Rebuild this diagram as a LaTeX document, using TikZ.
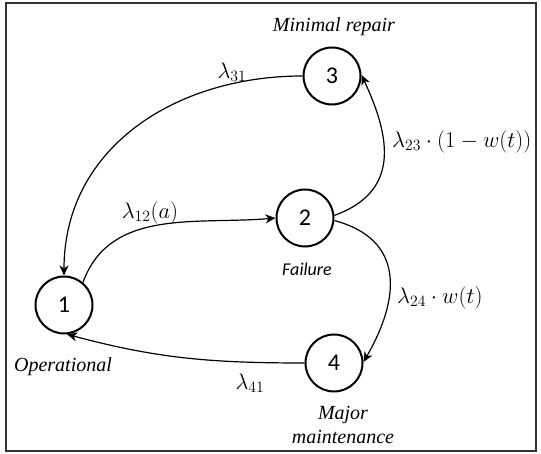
\RequirePackage{fix-cm}
\documentclass[tikz,border=0pt]{standalone}
\usepackage{fontspec}
\setmainfont{Liberation Serif}
\newfontfamily\numfont{Carlito}
\usetikzlibrary{arrows.meta}
\tikzset{
  state/.style={circle,draw=black,line width=2pt,minimum size=57pt,inner sep=0pt,
    font=\numfont\fontsize{24}{26}\selectfont},
  edge/.style={line width=1.2pt,-{Stealth[length=10pt,width=9pt,inset=3pt]}},
  itlab/.style={font=\itshape\fontsize{20}{24}\selectfont,align=center,inner sep=0pt},
  sflab/.style={font=\numfont\itshape\fontsize{18}{20}\selectfont,inner sep=0pt},
  mlab/.style={font=\fontsize{22.5}{25}\selectfont,inner sep=0pt}
}
\begin{document}
\begin{tikzpicture}[x=1pt,y=1pt]
\useasboundingbox (0,0) rectangle (541,454);
\draw[line width=1.6pt,black!80] (6,3) rectangle (536,451);
\node[state] (n3) at (332,378) {3};
\node[state] (n2) at (305,236) {2};
\node[state] (n1) at (64,149) {1};
\node[state] (n4) at (334,91) {4};
\node[itlab] (t3) at (334,427) {Minimal repair};
\node[sflab] (t2) at (307,185) {Failure};
\node[itlab] (t1) at (63,87) {Operational};
\node[itlab] (t4) at (343,29) {Major\\maintenance};
\node[mlab] (l31) at (232,382) {$\lambda_{31}$};
\node[mlab,anchor=west] (l23) at (392,312) {$\lambda_{23}\cdot(1-w(t))$};
\node[mlab] (l12) at (150,241) {$\lambda_{12}(a)$};
\node[mlab,anchor=west] (l24) at (397,156) {$\lambda_{24}\cdot w(t)$};
\node[mlab] (l41) at (250,71) {$\lambda_{41}$};
\draw[edge] (n3.west) to[out=180,in=90,looseness=1.05] (n1.north);
\draw[edge] (n1.50) to[out=70,in=185] (n2.west);
\draw[edge] (n2.5) to[out=20,in=-65,looseness=1.25] (n3.2);
\draw[edge] (n2.-5) to[out=-15,in=60,looseness=1.3] (n4.2);
\draw[edge] (n4.west) to[out=180,in=-15] (n1.-84);
\end{tikzpicture}
\end{document}
